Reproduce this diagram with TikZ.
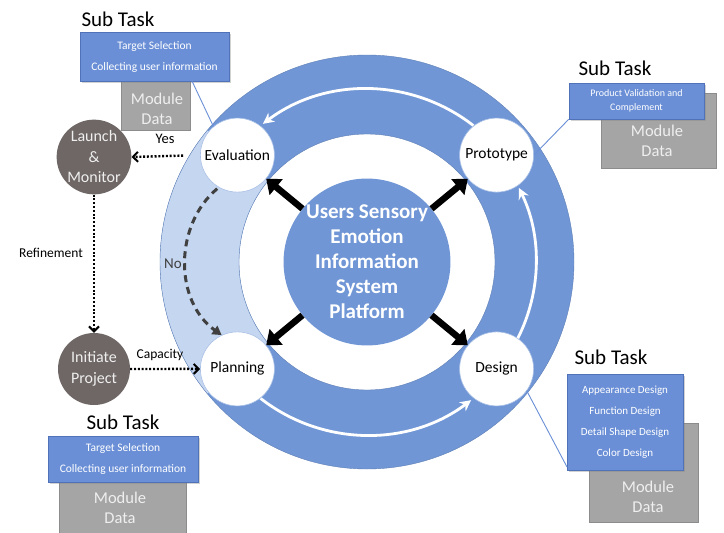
\documentclass[tikz,border=0pt]{standalone}
\usepackage{fontspec}
\setmainfont{Carlito}
\usetikzlibrary{arrows.meta,shadows,calc}
\definecolor{ringblue}{HTML}{7096D6}
\definecolor{lightring}{HTML}{C5D6F0}
\definecolor{boxblue}{HTML}{6A8FD6}
\definecolor{boxedge}{HTML}{4F72B8}
\definecolor{greybox}{HTML}{A5A5A5}
\definecolor{greyedge}{HTML}{8C8C8C}
\definecolor{darkcirc}{HTML}{6E6765}
\definecolor{nogrey}{HTML}{404040}
\definecolor{softwhite}{HTML}{EFEFEF}
\begin{document}
\begin{tikzpicture}[x=1pt,y=-1pt,
  stage/.style={circle, fill=white, draw=ringblue!60, line width=0.6pt, minimum size=74pt, inner sep=0pt, font=\fontsize{15.5}{18}\selectfont},
  hub/.style={circle, fill=ringblue, minimum size=160pt, inner sep=0pt, text=white, align=center, font=\fontsize{21}{25}\selectfont\bfseries},
  darkstage/.style={circle, fill=darkcirc, minimum size=72pt, inner sep=0pt, text=softwhite, align=center, font=\fontsize{16}{20.5}\selectfont},
  subtitle/.style={font=\fontsize{21}{24}\selectfont, inner sep=0pt},
  bluebox/.style={rectangle, fill=boxblue, draw=boxedge, line width=0.6pt, text=white, align=center, inner sep=0pt, drop shadow={opacity=0.35, shadow xshift=1.5pt, shadow yshift=-1.5pt}},
  greyrect/.style={rectangle, fill=greybox, draw=greyedge, line width=0.6pt, inner sep=0pt},
  moduletext/.style={text=softwhite, align=center, inner sep=0pt, font=\fontsize{16.5}{20}\selectfont},
  lbl/.style={inner sep=0pt, font=\fontsize{13.5}{16}\selectfont},
  hubarrow/.style={line width=6.5pt, -{Triangle[length=13pt,width=20pt]}},
  whitearc/.style={white, line width=2.8pt, -{Stealth[length=11pt,width=11pt]}},
  dotarrow/.style={line width=2.4pt, dash pattern=on 2pt off 1.8pt, -{Straight Barb[length=5pt,width=10pt,line width=2pt]}},
  noarrow/.style={nogrey, line width=3pt, dash pattern=on 7pt off 5pt, -{Triangle[length=9pt,width=10pt]}},
  linkline/.style={boxblue, line width=0.9pt}
]
\useasboundingbox (0,0) rectangle (724,533);
\fill[white] (0,0) rectangle (724,533);
\coordinate (C) at (367,262);
% ring
\fill[ringblue, even odd rule] (C) circle[radius=207] (C) circle[radius=128];
\fill[lightring] ([shift={(140.5:207)}]C) arc[start angle=140.5, end angle=219.5, radius=207]
  -- ([shift={(219.5:128)}]C) arc[start angle=219.5, end angle=140.5, radius=128] -- cycle;
\draw[ringblue!85!black, line width=0.4pt] (C) circle[radius=207] (C) circle[radius=128];
% white cycle arrows
\draw[whitearc] ([shift={(-52:173)}]C) arc[start angle=-52, end angle=-127, radius=173];
\draw[whitearc] ([shift={(27:169)}]C) arc[start angle=27, end angle=-26, radius=169];
\draw[whitearc] ([shift={(128:173)}]C) arc[start angle=128, end angle=53, radius=173];
% central hub and stages
\node[hub] (hubnode) at (C) {Users Sensory\\Emotion\\Information\\System\\Platform};
\node[stage] (eval) at (237.4,155.1) {Evaluation};
\node[stage] (proto) at (496.6,155.1) {Prototype};
\node[stage] (plan) at (237.4,368.9) {Planning};
\node[stage] (design) at (496.6,368.9) {Design};
\draw[hubarrow] (hubnode) -- (eval);
\draw[hubarrow] (hubnode) -- (proto);
\draw[hubarrow] (hubnode) -- (plan);
\draw[hubarrow] (hubnode) -- (design);
% left process circles
\node[darkstage] (launch) at (94,157) {Launch\\\&\\Monitor};
\node[darkstage] (init) at (94,369) {Initiate\\Project};
\draw[dotarrow, shorten <=17pt] (eval.west) -- (launch.east);
\draw[dotarrow] (launch.south) -- (init.north);
\draw[dotarrow] (init.east) -- (plan.west);
\draw[noarrow, shorten <=2pt] (eval.-120) .. controls (174,225) and (174,301) .. (plan.115);
\node[lbl, font=\fontsize{14.5}{16}\selectfont] (yeslbl) at (165,139) {Yes};
\node[lbl] (reflbl) at (51,253) {Refinement};
\node[lbl] (caplbl) at (160,355) {Capacity};
\node[lbl, text=nogrey, font=\fontsize{15}{16}\selectfont] (nolbl) at (173,264) {No};
% top-left sub task
\node[subtitle] (tlst) at (118,19) {Sub Task};
\node[greyrect, minimum width=69pt, minimum height=49pt] (tlg) at (155.5,105.5) {};
\node[moduletext] (tlgt) at (157,109) {Module\\Data};
\node[bluebox, minimum width=149pt, minimum height=49pt, font=\fontsize{11.5}{21}\selectfont] (tlb) at (154.5,56.5) {Target Selection\\Collecting user information};
\coordinate (tllink) at (192,81);
\draw[linkline] (tllink) -- (eval.130);
% top-right sub task
\node[subtitle] (trst) at (615,68) {Sub Task};
\node[greyrect, minimum width=115pt, minimum height=75pt] (trg) at (658.5,130.5) {};
\node[moduletext] (trgt) at (657,141) {Module\\Data};
\node[bluebox, minimum width=135pt, minimum height=36pt, font=\fontsize{10}{14}\selectfont] (trb) at (636.5,101) {Product Validation and\\Complement};
\draw[linkline] (trb.south west) -- (proto.east);
% bottom-left sub task
\node[subtitle] (blst) at (123,422) {Sub Task};
\node[greyrect, minimum width=127pt, minimum height=56pt] (blg) at (122.5,510) {};
\node[moduletext] (blgt) at (120,508) {Module\\Data};
\node[bluebox, minimum width=150pt, minimum height=46pt, font=\fontsize{11.5}{21}\selectfont] (blb) at (123,459) {Target Selection\\Collecting user information};
% bottom-right sub task
\node[subtitle] (brst) at (611,357) {Sub Task};
\node[greyrect, minimum width=109pt, minimum height=99pt] (brg) at (643.5,472.5) {};
\node[moduletext] (brgt) at (648,497) {Module\\Data};
\node[bluebox, minimum width=116pt, minimum height=96pt, font=\fontsize{11}{21}\selectfont] (brb) at (625,422) {Appearance Design\\Function Design\\Detail Shape Design\\Color Design};
\coordinate (brlink) at (567,467);
\draw[linkline] (design.-36) -- (brlink);
\end{tikzpicture}
\end{document}
